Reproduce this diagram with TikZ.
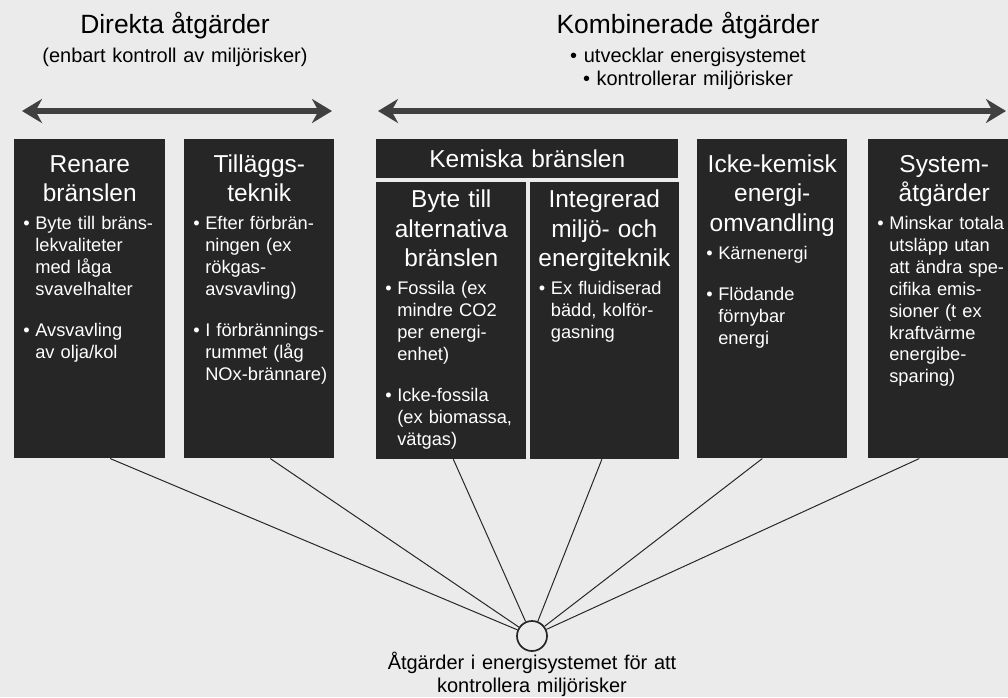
\documentclass[tikz,border=0pt]{standalone}
\usepackage{fontspec}
\setmainfont{Liberation Sans}
\usepackage{tikz}
\usetikzlibrary{arrows.meta,positioning}

\definecolor{paper}{gray}{0.92}
\definecolor{ink}{gray}{0.15}

% bullet with hanging indent
\newcommand{\bul}{\makebox[0.3cm][l]{\textbullet}}
\newcommand{\ind}{\hspace*{0.3cm}}

\begin{document}
\begin{tikzpicture}[
  title/.style={font=\fontsize{18.8}{22}\selectfont, inner sep=0, anchor=base},
  sub/.style={font=\fontsize{14.2}{16.4}\selectfont, inner sep=0, text width=10cm, align=center, anchor=base},
  pillar/.style={fill=ink, inner sep=0, minimum width=3.75cm, minimum height=7.975cm, anchor=north west},
  head/.style={text=white, font=\fontsize{17.4}{21}\selectfont, inner sep=0, text width=3.75cm, align=center, anchor=base},
  body/.style={text=white, font=\fontsize{13}{15.6}\selectfont, inner sep=0, text width=3.6cm, align=left, anchor=base west},
  reach/.style={{Stealth[length=5mm,width=6mm]}-{Stealth[length=5mm,width=6mm]}, line width=4pt, draw=black!75},
  spoke/.style={draw=black!85, line width=0.7pt},
]
  \fill[paper] (0,0) rectangle (25.2,-17.425);
  \useasboundingbox (0,0) rectangle (25.2,-17.425);

  % titles
  \node[title] (direkt) at (4.375,-0.825) {Direkta åtgärder};
  \node[sub] (direktsub) at (4.375,-1.55) {(enbart kontroll av miljörisker)};
  \node[title] (komb) at (17.2,-0.825) {Kombinerade åtgärder};
  \node[sub] (kombsub) at (17.2,-1.55) {\textbullet\ utvecklar energisystemet\\\textbullet\ kontrollerar miljörisker};

  \coordinate (dl) at (0.55,-2.775);
  \coordinate (dr) at (8.3,-2.775);
  \coordinate (kl) at (9.45,-2.775);
  \coordinate (kr) at (25.15,-2.775);
  \draw[reach] (dl) -- (dr);
  \draw[reach] (kl) -- (kr);

  % columns
  \node[pillar, minimum width=3.775cm] (rena) at (0.35,-3.475) {};
  \node[pillar] (tillagg) at (4.6,-3.475) {};
  \node[pillar, minimum width=7.55cm, minimum height=0.975cm] (kemi) at (9.4,-3.475) {};
  \node[pillar, minimum height=6.925cm, below right=0.075cm and 0cm of kemi.south west] (byte) {};
  \node[pillar, minimum width=3.725cm, minimum height=6.925cm, right=0.075cm of byte] (integ) {};
  \node[pillar] (icke) at (17.425,-3.475) {};
  \node[pillar, minimum width=3.8cm] (system) at (21.7,-3.475) {};

  \node[head] at ([yshift=-0.825cm]rena.north) {Renare\\bränslen};
  \node[body] at ([xshift=0.225cm,yshift=-2.26cm]rena.north west) {\bul Byte till bräns-\\\ind lekvaliteter\\\ind med låga\\\ind svavelhalter\\[14pt]\bul Avsvavling\\\ind av olja/kol};

  \node[head] at ([yshift=-0.825cm]tillagg.north) {Tilläggs-\\teknik};
  \node[body] at ([xshift=0.225cm,yshift=-2.26cm]tillagg.north west) {\bul Efter förbrän-\\\ind ningen (ex\\\ind rökgas-\\\ind avsvavling)\\[14pt]\bul I förbrännings-\\\ind rummet (låg\\\ind NOx-brännare)};

  \node[head, text width=7.55cm] at ([yshift=-0.7cm]kemi.north) {Kemiska bränslen};

  \node[head] at ([yshift=-0.65cm]byte.north) {Byte till\\alternativa\\bränslen};
  \node[body] at ([xshift=0.225cm,yshift=-2.825cm]byte.north west) {\bul Fossila (ex\\\ind mindre CO2\\\ind per energi-\\\ind enhet)\\[14pt]\bul Icke-fossila\\\ind (ex biomassa,\\\ind vätgas)};

  \node[head, text width=3.725cm] at ([yshift=-0.65cm]integ.north) {Integrerad\\miljö- och\\energiteknik};
  \node[body] at ([xshift=0.225cm,yshift=-2.825cm]integ.north west) {\bul Ex fluidiserad\\\ind bädd, kolför-\\\ind gasning};

  \node[head] at ([yshift=-0.825cm]icke.north) {Icke-kemisk\\energi-\\omvandling};
  \node[body] at ([xshift=0.225cm,yshift=-3.0cm]icke.north west) {\bul Kärnenergi\\[14pt]\bul Flödande\\\ind förnybar\\\ind energi};

  \node[head, text width=3.8cm] at ([yshift=-0.825cm]system.north) {System-\\åtgärder};
  \node[body] at ([xshift=0.225cm,yshift=-2.26cm]system.north west) {\bul Minskar totala\\\ind utsläpp utan\\\ind att ändra spe-\\\ind cifika emis-\\\ind sioner (t ex\\\ind kraftvärme\\\ind energibe-\\\ind sparing)};

  % hub
  \node[circle, draw=black!85, line width=1.2pt, minimum size=0.75cm, inner sep=0] (hub) at (13.3,-15.9) {};
  \node[sub, below=0cm of hub] (hublabel) {Åtgärder i energisystemet för att\\kontrollera miljörisker};

  \draw[spoke] ([xshift=0.51cm]rena.south) -- (hub);
  \draw[spoke] ([xshift=0.275cm]tillagg.south) -- (hub);
  \draw[spoke] ([xshift=0.05cm]byte.south) -- (hub);
  \draw[spoke] ([xshift=-0.06cm]integ.south) -- (hub);
  \draw[spoke] ([xshift=-0.25cm]icke.south) -- (hub);
  \draw[spoke] ([xshift=-0.625cm]system.south) -- (hub);
\end{tikzpicture}
\end{document}
